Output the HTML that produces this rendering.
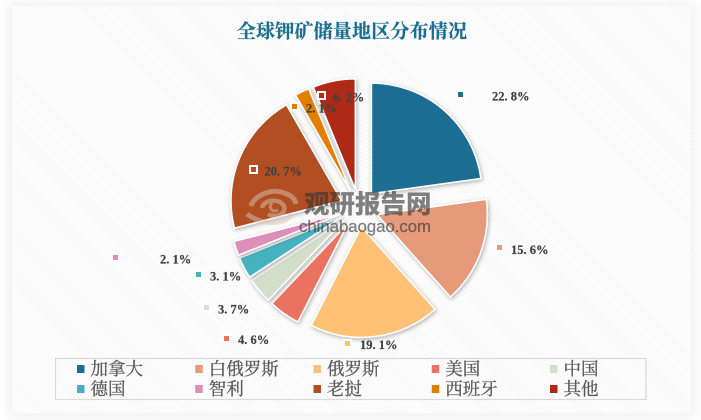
<!DOCTYPE html>
<html lang="zh">
<head>
<meta charset="utf-8">
<title>全球钾矿储量地区分布情况</title>
<style>
html,body{margin:0;padding:0;background:#fff;}
body{width:701px;height:420px;overflow:hidden;position:relative;}
#outer{position:absolute;left:0;top:0;width:701px;height:420px;background:#fff;}
#card{position:absolute;left:12px;top:6px;width:679px;height:407px;box-shadow:0 0 10px 4px rgba(0,0,0,.06);
background:repeating-linear-gradient(45deg,#ffffff 0,#ffffff 1.6px,#f6f6f6 1.6px,#f6f6f6 2.8px);}
svg{position:absolute;left:0;top:0;}
text{font-family:"Liberation Serif","Noto Serif CJK SC",serif;}
</style>
</head>
<body>
<div id="outer">
<div id="card"></div>
</div>
<svg id="chart" width="701" height="420" viewBox="0 0 701 420" xmlns="http://www.w3.org/2000/svg">
<defs>
<filter id="sliceShadow" x="-30%" y="-30%" width="160%" height="160%">
<feDropShadow dx="1" dy="1.5" stdDeviation="2" flood-color="#000" flood-opacity="0.3"/>
</filter>
</defs>
<text x="352" y="37.5" text-anchor="middle" font-size="19" font-weight="700" letter-spacing="0.2" fill="#1b6e8f" stroke="#1b6e8f" stroke-width="0.25" style='font-family:"Noto Serif CJK SC",serif'>全球钾矿储量地区分布情况</text>
<g id="slices"></g>
<g id="labels"></g>
<g id="watermark">
<g fill="none" stroke="#d9c2b4" stroke-opacity="0.5">
<path d="M251 206 C254 196 270 189 281 192 C289 194 295 198 296 204" stroke-width="5"/>
<path d="M247 214 C260 224 283 227 292 214" stroke-width="5"/>
<path d="M262 208 C264 199 280 198 284 206 C287 213 276 219 268 214" stroke-width="4.5"/>
<path d="M272 203 C268 208 272 213 278 210" stroke-width="3"/>
</g>
<text x="304" y="213" font-size="25.5" font-weight="900" fill="#333" fill-opacity="0.62" style='font-family:"Noto Sans CJK SC",sans-serif'>观研报告网</text>
<text x="299" y="232" font-size="17" font-weight="400" fill="#333" fill-opacity="0.62" stroke="#333" stroke-opacity="0.3" stroke-width="0.4" style='font-family:"Liberation Sans",sans-serif' textLength="132" lengthAdjust="spacingAndGlyphs">chinabaogao.com</text>
</g>
<rect x="55.5" y="358.5" width="590.5" height="41" fill="none" stroke="#d9d9d9" stroke-width="1.2"/>
<g id="legend"></g>
</svg>
<script>
const categories = ['加拿大','白俄罗斯','俄罗斯','美国','中国','德国','智利','老挝','西班牙','其他'];
const values = [22.8,15.6,19.1,4.6,3.7,3.1,2.1,20.7,2.1,6.2];
const printedLabels = ['22. 8%','15. 6%','19. 1%','4. 6%','3. 7%','3. 1%','2. 1%','20. 7%','2. 1%','6. 2%'];
const colors = ['#1b6d92','#e59a7a','#ffc174','#ea7260','#d2dfcb','#46b2bf','#dd8fba','#b14f22','#e27f00','#ae2a17'];

const NS = 'http://www.w3.org/2000/svg';
const cx = 359, cy = 208, radius = 110.5, explode = 19, labelRadius = 130;

/* manual label placement relative to each slice's mid-angle anchor: [marker dx, marker dy, text gap] */
function labelPlacement(i) {
  switch (i) {
    case 0: return [16.1,-15.4,31.5];
    case 1: return [18,-4.9,12];
    case 2: return [-27.7,6.1,12];
    case 3: return [-57.4,23.9,11.5];
    case 4: return [-52.6,16.3,11.5];
    case 5: return [-45.2,6.4,11.5];
    case 6: return [-120,8.9,44.5];
    case 7: return [13.8,12,11.5];
    case 8: return [-7.3,15.2,11.5];
    default: return [-12.3,15,11.5];
  }
}
function angleOf(v, total) { return v / total * Math.PI * 2; }
function polar(x, y, r, a) { return [x + r * Math.sin(a), y - r * Math.cos(a)]; }

const total = values.reduce(function (s, v) { return s + v; }, 0);
const sliceGroup = document.getElementById('slices');
const labelGroup = document.getElementById('labels');
const legendGroup = document.getElementById('legend');
let cumulative = 0;

values.forEach(function (v, i) {
  const a0 = angleOf(cumulative, total);
  const a1 = angleOf(cumulative + v, total);
  const mid = (a0 + a1) / 2;
  cumulative += v;
  const apex = polar(cx, cy, explode, mid);
  const p0 = polar(apex[0], apex[1], radius, a0);
  const p1 = polar(apex[0], apex[1], radius, a1);
  const large = (a1 - a0) > Math.PI ? 1 : 0;
  const path = document.createElementNS(NS, 'path');
  path.setAttribute('d', 'M' + apex[0] + ' ' + apex[1] + ' L' + p0[0] + ' ' + p0[1] + ' A' + radius + ' ' + radius + ' 0 ' + large + ' 1 ' + p1[0] + ' ' + p1[1] + ' Z');
  path.setAttribute('fill', colors[i]);
  path.setAttribute('stroke', '#fff');
  path.setAttribute('stroke-width', '1.5');
  path.setAttribute('stroke-linejoin', 'miter');
  path.setAttribute('filter', 'url(#sliceShadow)');
  
  
  sliceGroup.appendChild(path);

  const place = labelPlacement(i);
  const anchor = polar(cx, cy, labelRadius, mid);
  const mx = anchor[0] + place[0];
  const my = anchor[1] + place[1];
  const marker = document.createElementNS(NS, 'rect');
  marker.setAttribute('x', Math.round(mx - 3.5) + 0.0);
  marker.setAttribute('y', Math.round(my - 3.5) + 0.0);
  marker.setAttribute('width', 7);
  marker.setAttribute('height', 7);
  marker.setAttribute('fill', colors[i]);
  marker.setAttribute('stroke', '#fff');
  marker.setAttribute('stroke-width', '2');
  
  
  labelGroup.appendChild(marker);
  const label = document.createElementNS(NS, 'text');
  label.setAttribute('x', mx + place[2]);
  label.setAttribute('y', my + 6);
  label.setAttribute('font-size', '12.5');
  label.setAttribute('font-weight', '700');
  label.setAttribute('fill', '#404040');
  label.setAttribute('stroke', '#404040');
  label.setAttribute('stroke-width', '0.2');
  label.setAttribute('xml:space', 'preserve');
  label.textContent = printedLabels[i];
  
  
  labelGroup.appendChild(label);

  const col = i % 5;
  const row = Math.floor(i / 5);
  const lx = 77 + col * 118.25;
  const ly = 365 + row * 20;
  const swatch = document.createElementNS(NS, 'rect');
  swatch.setAttribute('x', lx);
  swatch.setAttribute('y', ly);
  swatch.setAttribute('width', 7.5);
  swatch.setAttribute('height', 8);
  swatch.setAttribute('fill', colors[i]);
  
  
  legendGroup.appendChild(swatch);
  const name = document.createElementNS(NS, 'text');
  name.setAttribute('x', lx + 13.5);
  name.setAttribute('y', ly + 10);
  name.setAttribute('font-size', '17.5');
  name.setAttribute('fill', '#595959');
  name.setAttribute('stroke', '#595959');
  name.setAttribute('stroke-width', '0.3');
  name.setAttribute('style', 'font-family:"Noto Serif CJK SC",serif');
  name.textContent = categories[i];
  
  
  legendGroup.appendChild(name);
});
</script>
</body>
</html>
